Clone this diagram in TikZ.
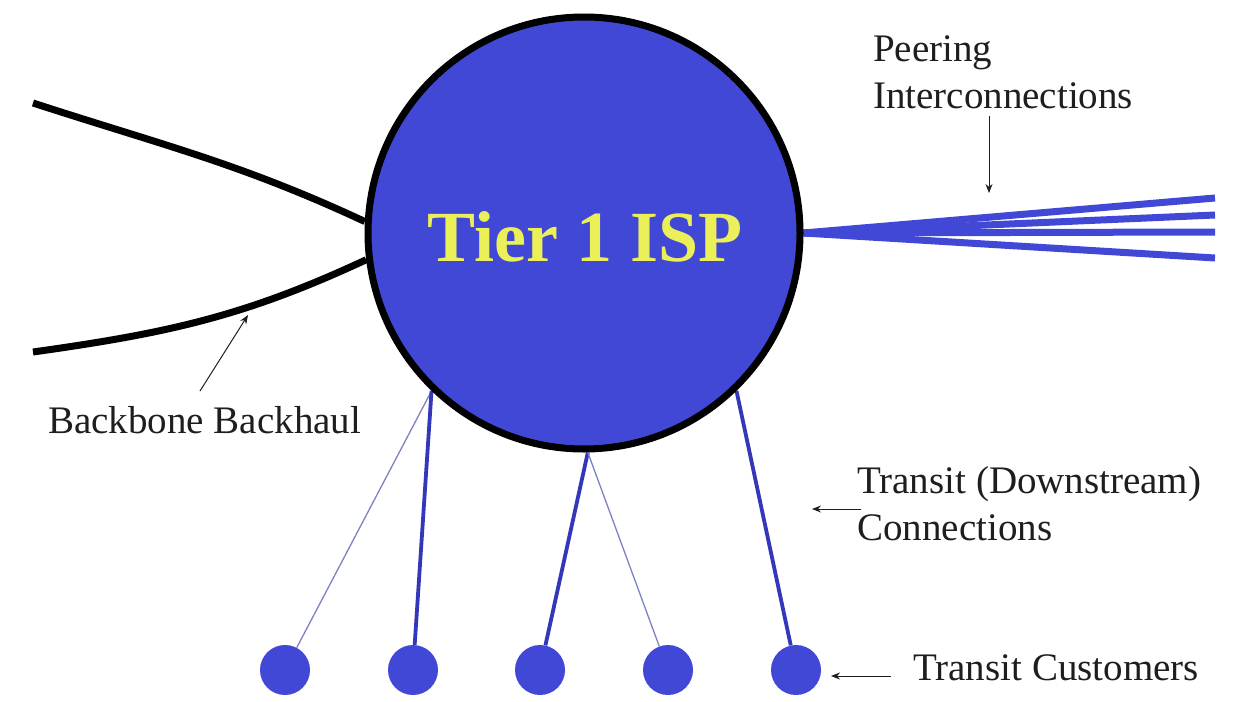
\documentclass[tikz,border=0pt]{standalone}
\usepackage{fontspec}
\setmainfont{Liberation Serif}
\usetikzlibrary{arrows.meta,backgrounds}
\definecolor{ispblue}{RGB}{66,72,214}
\definecolor{linkblue}{RGB}{50,56,185}
\definecolor{thinlink}{RGB}{125,130,195}
\definecolor{ispyellow}{RGB}{236,240,88}
\definecolor{labelgray}{RGB}{30,30,30}

\begin{document}
\begin{tikzpicture}[x=1pt,y=-1pt,
  hub/.style={circle,draw=black,line width=7pt,fill=ispblue,minimum size=432pt,inner sep=0pt},
  leaf/.style={circle,fill=ispblue,minimum size=50pt,inner sep=0pt},
  backbone/.style={line width=7pt,black},
  peerlink/.style={line width=7pt,ispblue},
  transit/.style={line width=3.8pt,linkblue},
  transitthin/.style={line width=1.3pt,thinlink},
  lbl/.style={font=\fontsize{39}{46}\selectfont,text=labelgray,inner sep=0pt,anchor=base west},
  pointer/.style={line width=1pt,labelgray,-{Stealth[length=9pt,width=7pt]}},
]
\useasboundingbox (0,0) rectangle (1241,701);

% the Tier 1 network and its transit customers
\node[hub] (isp) at (584,233) {};
\node[font=\fontsize{72}{80}\selectfont\bfseries,text=ispyellow,inner sep=0pt] (title) at (585,237) {Tier 1 ISP};
\node[leaf] (c1) at (285,670) {};
\node[leaf] (c2) at (413,670) {};
\node[leaf] (c3) at (540,670) {};
\node[leaf] (c4) at (668,670) {};
\node[leaf] (c5) at (796,670) {};

% free ends of the backbone and peering links
\coordinate (bbtop) at (33,103);
\coordinate (bbbot) at (33,352);
\coordinate (p1) at (1215,198);
\coordinate (p2) at (1215,215);
\coordinate (p3) at (1215,232);
\coordinate (p4) at (1215,258);

\begin{pgfonlayer}{background}
  \fill[white] (0,0) rectangle (1241,701);
  % backbone backhaul
  \draw[backbone] (bbtop) to[out=-18,in=155] (isp.177);
  \draw[backbone] (bbbot) to[out=8,in=205] (isp.187);
  % peering interconnections
  \draw[peerlink] (isp.east) -- (p1);
  \draw[peerlink] (isp.east) -- (p2);
  \draw[peerlink] (isp.east) -- (p3);
  \draw[peerlink] (isp.east) -- (p4);
  % transit (downstream) connections
  \draw[transitthin] (isp.226) -- (c1);
  \draw[transit] (isp.226) -- (c2);
  \draw[transit] (isp.271) -- (c3);
  \draw[transitthin] (isp.271) -- (c4);
  \draw[transit] (isp.314) -- (c5);
\end{pgfonlayer}

% labels with their pointers
\node[lbl] (peering) at (873,62) {Peering};
\node[lbl] (interconn) at (873,108) {Interconnections};
\coordinate (pa) at (989,116);
\coordinate (pb) at (989,193);
\draw[pointer] (pa) -- (pb);

\node[lbl] (backhaul) at (48,433) {Backbone Backhaul};
\coordinate (ba) at (200,391);
\coordinate (bb) at (248,315);
\draw[pointer] (ba) -- (bb);

\node[lbl] (transitA) at (857,493) {Transit (Downstream)};
\node[lbl] (transitB) at (857,540) {Connections};
\coordinate (ta) at (861,509);
\coordinate (tb) at (812,509);
\draw[pointer] (ta) -- (tb);

\node[lbl] (customers) at (913,680) {Transit Customers};
\coordinate (ca) at (891,676);
\coordinate (cb) at (831,676);
\draw[pointer] (ca) -- (cb);
\end{tikzpicture}
\end{document}
